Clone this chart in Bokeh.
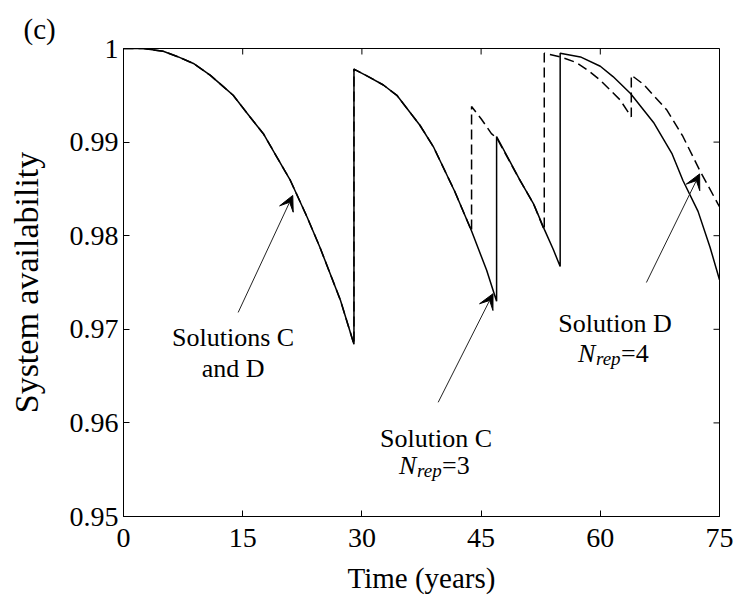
import math
from bokeh.plotting import figure
from bokeh.models import (Range1d, FixedTicker, Arrow, VeeHead, Label)
from bokeh.embed import file_html
from bokeh.resources import INLINE

FONT = "serif"
TITLE_FONT = "Liberation Serif"

# ---- data ---------------------------------------------------------------
# Solution C (N_rep = 3), solid line
c_time = [0, 2.5, 5.0, 6.9, 8.8, 10.9, 12.6, 13.8, 15.9, 17.6, 19.3, 21.0, 23.1, 24.7,
          27.3, 29.0, 29.0, 30.8, 32.7, 34.4, 37.3, 39.0, 41.7, 43.8, 45.7, 46.95,
          46.95, 49.9, 51.6, 53.0, 54.1, 54.95, 54.95, 57.5, 60.0, 61.6, 63.8, 66.7,
          69.0, 70.4, 72.3, 73.8, 75.0]
c_avail = [1.0, 1.0, 0.9997, 0.9991, 0.9984, 0.99715, 0.9959, 0.9950, 0.9927, 0.9909,
           0.9884, 0.9859, 0.9820, 0.9788, 0.9731, 0.9684, 0.9978, 0.9970, 0.9961,
           0.9950, 0.9918, 0.9895, 0.9847, 0.9805, 0.9763, 0.9730, 0.9906, 0.9859,
           0.9834, 0.9806, 0.9785, 0.9767, 0.9995, 0.9991, 0.9981, 0.9970, 0.9952,
           0.9921, 0.9888, 0.9859, 0.9826, 0.9788, 0.9753]

# Solution D (N_rep = 4), dashed line
d_time = [0, 2.5, 5.0, 6.9, 8.8, 10.9, 12.6, 13.8, 15.9, 17.6, 19.3, 21.0, 23.1, 24.7,
          27.3, 29.0, 29.0, 30.8, 32.7, 34.4, 37.3, 39.0, 41.7, 43.8, 43.8, 45.0, 46.3,
          47.0, 49.9, 51.6, 52.95, 52.95, 55.0, 57.0, 58.7, 60.0, 62.5, 63.9, 63.9,
          65.4, 68.4, 70.4, 72.5, 74.8, 75.0]
d_avail = [1.0, 1.0, 0.9997, 0.9991, 0.9984, 0.99715, 0.9959, 0.9950, 0.9927, 0.9909,
           0.9884, 0.9859, 0.9820, 0.9788, 0.9731, 0.9684, 0.9978, 0.9970, 0.9961,
           0.9950, 0.9918, 0.9895, 0.9847, 0.9805, 0.9938, 0.9925, 0.9909, 0.9904,
           0.9859, 0.9834, 0.9806, 0.9995, 0.9991, 0.9985, 0.9975, 0.9966, 0.9945,
           0.9927, 0.99715, 0.9962, 0.9934, 0.9906, 0.9870, 0.9834, 0.9831]

x_ticks = [0, 15, 30, 45, 60, 75]
y_ticks = [0.95, 0.96, 0.97, 0.98, 0.99, 1.0]
y_tick_labels = ["0.95", "0.96", "0.97", "0.98", "0.99", "1"]

X0, X1, Y0, Y1 = 0, 75, 0.95, 1.0

# ---- figure -------------------------------------------------------------
p = figure(width=740, height=604, output_backend="svg", toolbar_location=None,
           x_range=Range1d(X0, X1), y_range=Range1d(Y0, Y1),
           min_border_left=123, min_border_right=21, min_border_top=48,
           min_border_bottom=88, title="(c)")
p.grid.visible = False
p.outline_line_color = "black"
p.outline_line_width = 1

p.title.text_font = TITLE_FONT
p.title.text_font_size = "29px"
p.title.text_font_style = "normal"
p.title.text_color = "black"
p.title.align = "left"
p.title.offset = -100
p.title.standoff = 8

for ax in (p.xaxis[0], p.yaxis[0]):
    ax.axis_label_text_font = FONT
    ax.axis_label_text_font_style = "normal"
    ax.major_label_text_font = FONT
    ax.major_label_text_font_size = "28px"
    ax.major_tick_in = 6
    ax.major_tick_out = 0
    ax.minor_tick_in = 0
    ax.minor_tick_out = 0
    ax.axis_line_color = "black"
    ax.major_tick_line_color = "black"
    ax.major_label_text_color = "black"
    ax.axis_label_text_color = "black"

p.xaxis[0].ticker = FixedTicker(ticks=x_ticks)
p.xaxis[0].axis_label = "Time (years)"
p.xaxis[0].axis_label_text_font_size = "29px"
p.xaxis[0].major_label_standoff = 12
p.xaxis[0].axis_label_standoff = 12

p.yaxis[0].ticker = FixedTicker(ticks=y_ticks)
p.yaxis[0].major_label_overrides = dict(zip(y_ticks, y_tick_labels))
p.yaxis[0].axis_label = "System availability"
p.yaxis[0].axis_label_text_font_size = "34px"
p.yaxis[0].major_label_standoff = 5
p.yaxis[0].axis_label_standoff = 22

# mirrored inward tick marks on the top and right frame edges (6 px long)
p.ray(x=x_ticks, y=[Y1] * len(x_ticks), length=6, length_units="screen",
      angle=-math.pi / 2, line_color="black", line_width=1)
p.ray(x=[X1] * len(y_ticks), y=y_ticks, length=6, length_units="screen",
      angle=math.pi, line_color="black", line_width=1)

# ---- lines --------------------------------------------------------------
p.line(d_time, d_avail, line_color="black", line_width=1.5, line_dash="10 5")
p.line(c_time, c_avail, line_color="black", line_width=1.5)

# ---- annotations --------------------------------------------------------
arrows = [((14.43, 0.9718), (21.3, 0.9843)),
          ((39.6, 0.9622), (46.5, 0.9738)),
          ((65.8, 0.9750), (72.5, 0.9866))]
for (xs, ys), (xe, ye) in arrows:
    p.add_layout(Arrow(x_start=xs, y_start=ys, x_end=xe, y_end=ye,
                       line_color="#222222", line_width=1,
                       end=VeeHead(size=15, fill_color="black", line_color="black",
                                   line_width=1)))

def lab(x, y, text, size="26px", style="normal", align="center", xo=0, yo=0):
    p.add_layout(Label(x=x, y=y, text=text, text_font=FONT, text_font_size=size,
                       text_font_style=style, text_align=align,
                       text_baseline="alphabetic", text_color="black",
                       x_offset=xo, y_offset=yo))

lab(13.8, 0.96916, "Solutions C")
lab(13.8, 0.96578, "and D")
lab(39.33, 0.95830, "Solution C")
lab(61.85, 0.97059, "Solution D")

for xc, yb, n in ((39.33, 0.95545, "=3"), (61.85, 0.96741, "=4")):
    lab(xc, yb, "N", style="italic", align="left", xo=-37)
    lab(xc, yb, "rep", size="19px", style="italic", align="left", xo=-19, yo=-5)
    lab(xc, yb, n, align="left", xo=6)

open("out.html", "w").write(file_html(p, INLINE))
